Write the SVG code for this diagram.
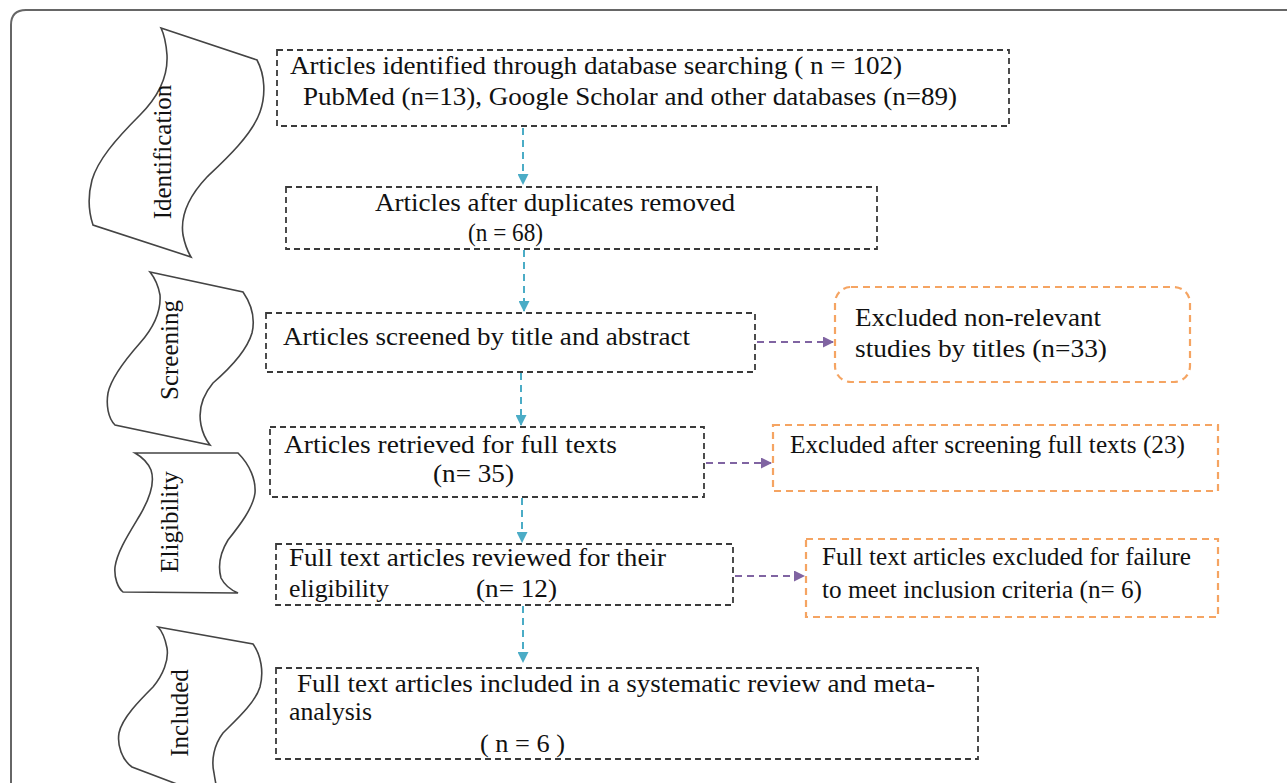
<svg xmlns="http://www.w3.org/2000/svg" width="1287" height="783" viewBox="0 0 1287 783">
<style>
.t{font-family:"Liberation Serif","Times New Roman",serif;font-size:25px;fill:#111}
.b{font-family:"Liberation Serif","Times New Roman",serif;font-size:25px;fill:#111}
.box{fill:#fff;stroke:#3a3a3a;stroke-width:1.8;stroke-dasharray:6,4}
.ex{fill:#fff;stroke:#F5A462;stroke-width:2.2;stroke-dasharray:7,5}
.ban{fill:#fff;stroke:#444;stroke-width:1.6}
.cy{stroke:#4BACC6;stroke-width:2;stroke-dasharray:7,5;fill:none}
.pu{stroke:#8064A2;stroke-width:2;stroke-dasharray:7,5;fill:none}
</style>
<defs>
<marker id="ac" markerWidth="11" markerHeight="11" refX="10" refY="5.5" orient="auto" markerUnits="userSpaceOnUse"><path d="M0,0 L11,5.5 L0,11 Z" fill="#4BACC6"/></marker>
<marker id="ap" markerWidth="11" markerHeight="11" refX="10" refY="5.5" orient="auto" markerUnits="userSpaceOnUse"><path d="M0,0 L11,5.5 L0,11 Z" fill="#8064A2"/></marker>
</defs>
<rect width="1287" height="783" fill="#fff"/>
<path d="M11,800 L11,25 Q11,10 26,10 L1300,10" fill="none" stroke="#666" stroke-width="2"/>

<g id="banner-identification">
<path class="ban" d="M161,28 L257,60 C265,75 266,95 260,112 C252,135 225,160 207,177 C190,195 180,215 183,235 C185,245 188,252 191,257 L93,225 C88,210 88,195 92,180 C98,160 115,140 140,115 C160,95 168,75 167,55 C166,42 164,34 161,28 Z"/>
<text class="b" transform="translate(171,152) rotate(-90)" text-anchor="middle">Identification</text>
</g>
<g id="banner-screening">
<path class="ban" d="M150,272 L243,292 C252,305 255,320 252,333 C247,350 228,370 213,383 C203,395 198,410 201,425 C203,435 206,440 210,445 L115,425 C108,418 106,405 108,393 C111,378 125,360 140,343 C155,326 161,310 160,295 C158,284 154,277 150,272 Z"/>
<text class="b" transform="translate(178,350) rotate(-90)" text-anchor="middle">Screening</text>
</g>
<g id="banner-eligibility">
<path class="ban" d="M135,453 L238,453 C250,465 256,480 255,493 C253,508 240,525 228,540 C220,553 218,567 221,578 C225,586 231,590 238,593 L123,592 C118,588 114,578 115,567 C117,552 128,535 140,515 C150,498 155,482 151,470 C148,463 142,457 135,453 Z"/>
<text class="b" transform="translate(178,522) rotate(-90)" text-anchor="middle">Eligibility</text>
</g>
<g id="banner-included">
<path class="ban" d="M158,627 L253,644 C261,655 264,672 260,687 C255,703 236,720 223,733 C214,745 211,760 214,773 C215,780 217,790 219,800 L132,767 C122,760 117,745 119,733 C122,718 140,700 153,687 C163,675 169,660 167,648 C165,638 162,631 158,627 Z"/>
<text class="b" transform="translate(188,713) rotate(-90)" text-anchor="middle">Included</text>
</g>

<g id="connectors">
<line class="cy" x1="523" y1="128" x2="523" y2="184" marker-end="url(#ac)"/>
<line class="cy" x1="524" y1="250" x2="524" y2="311" marker-end="url(#ac)"/>
<line class="cy" x1="521" y1="373" x2="521" y2="425" marker-end="url(#ac)"/>
<line class="cy" x1="522" y1="498" x2="522" y2="542" marker-end="url(#ac)"/>
<line class="cy" x1="523" y1="606" x2="523" y2="662" marker-end="url(#ac)"/>
<line class="pu" x1="757" y1="342" x2="833" y2="342" marker-end="url(#ap)"/>
<line class="pu" x1="706" y1="463" x2="771" y2="463" marker-end="url(#ap)"/>
<line class="pu" x1="735" y1="576" x2="804" y2="576" marker-end="url(#ap)"/>
</g>

<g id="identified">
<rect class="box" x="277" y="50" width="732" height="76"/>
<text class="t" x="290" y="74" textLength="612" lengthAdjust="spacingAndGlyphs">Articles identified through database searching ( n = 102)</text>
<text class="t" x="303" y="105" textLength="654" lengthAdjust="spacingAndGlyphs">PubMed (n=13), Google Scholar and other databases (n=89)</text>
</g>
<g id="duplicates">
<rect class="box" x="286" y="187" width="591" height="62"/>
<text class="t" x="375" y="211" textLength="360" lengthAdjust="spacingAndGlyphs">Articles after duplicates removed</text>
<text class="t" x="468" y="241" textLength="75" lengthAdjust="spacingAndGlyphs">(n = 68)</text>
</g>
<g id="screened">
<rect class="box" x="266" y="313" width="489" height="59"/>
<text class="t" x="283" y="345" textLength="407" lengthAdjust="spacingAndGlyphs">Articles screened by title and abstract</text>
</g>
<g id="excluded-titles">
<rect class="ex" x="835" y="287" width="355" height="95" rx="16"/>
<text class="t" x="855" y="326" textLength="246" lengthAdjust="spacingAndGlyphs">Excluded non-relevant</text>
<text class="t" x="855" y="357" textLength="252" lengthAdjust="spacingAndGlyphs">studies by titles (n=33)</text>
</g>
<g id="retrieved">
<rect class="box" x="270" y="427" width="434" height="70"/>
<text class="t" x="284" y="453" textLength="333" lengthAdjust="spacingAndGlyphs">Articles retrieved for full texts</text>
<text class="t" x="433" y="482" textLength="81" lengthAdjust="spacingAndGlyphs">(n= 35)</text>
</g>
<g id="excluded-fulltext">
<rect class="ex" x="773" y="425" width="445" height="66"/>
<text class="t" x="790" y="453" textLength="395" lengthAdjust="spacingAndGlyphs">Excluded after screening full texts (23)</text>
</g>
<g id="reviewed">
<rect class="box" x="276" y="544" width="457" height="61"/>
<text class="t" x="289" y="566" textLength="377" lengthAdjust="spacingAndGlyphs">Full text articles reviewed for their</text>
<text class="t" x="289" y="597" textLength="100" lengthAdjust="spacingAndGlyphs">eligibility</text>
<text class="t" x="476" y="597" textLength="81" lengthAdjust="spacingAndGlyphs">(n= 12)</text>
</g>
<g id="excluded-criteria">
<rect class="ex" x="806" y="539" width="412" height="78"/>
<text class="t" x="822" y="565" textLength="369" lengthAdjust="spacingAndGlyphs">Full text articles excluded for failure</text>
<text class="t" x="822" y="598" textLength="320" lengthAdjust="spacingAndGlyphs">to meet inclusion criteria (n= 6)</text>
</g>
<g id="included">
<rect class="box" x="276" y="668" width="702" height="91"/>
<text class="t" x="297" y="692" textLength="638" lengthAdjust="spacingAndGlyphs">Full text articles included in a systematic review and meta-</text>
<text class="t" x="289" y="720" textLength="83" lengthAdjust="spacingAndGlyphs">analysis</text>
<text class="t" x="480" y="752" textLength="85" lengthAdjust="spacingAndGlyphs">( n = 6 )</text>
</g>
</svg>
